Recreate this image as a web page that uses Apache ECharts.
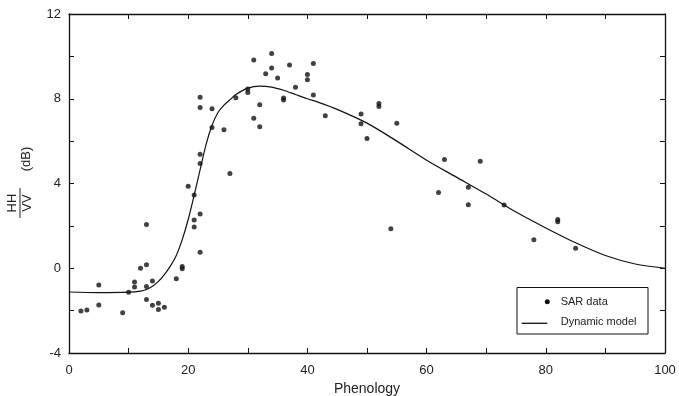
<!DOCTYPE html>
<html>
<head>
<meta charset="utf-8">
<script src="https://cdn.jsdelivr.net/npm/echarts@6/dist/echarts.min.js"></script>
<style>html,body{margin:0;padding:0;background:#fff;}#c{width:679px;height:396px;}</style>
</head>
<body>
<div id="c"></div>
<script>
// SAR observations
var sarPhenology = [2,3,5,5,9,10,11,11,12,13,13,13,13,14,14,15,15,16,18,19,19,20,21,21,21,22,22,22,22,22,22,24,24,26,27,28,30,30,31,31,32,32,33,34,34,35,36,36,37,38,40,40,41,41,43,49,49,50,52,52,55,54,62,63,67,67,69,73,78,82,82,85];
var sarRatio = [-2.02,-1.97,-0.79,-1.73,-2.1,-1.13,-0.88,-0.65,0.0,0.16,2.06,-0.86,-1.48,-0.6,-1.75,-1.65,-1.95,-1.84,-0.5,0.08,-0.02,3.87,3.46,2.28,1.95,2.56,0.76,4.94,5.38,8.07,7.59,7.53,6.64,6.54,4.47,8.05,8.46,8.3,9.83,7.08,7.72,6.68,9.18,10.13,9.45,8.98,8.03,7.94,9.59,8.54,9.15,8.9,9.66,8.18,7.2,7.28,6.82,6.12,7.77,7.63,6.84,1.87,3.58,5.13,3.82,3.0,5.05,2.99,1.35,2.2,2.3,0.94];
// Dynamic model curve
var modelPhenology = [0,5,10,12,13,14,15,16,17,18,19,20,21,22,23,24,25,26,27,28,30,32,34,36,38,40,42,45,50,55,60,65,70,75,80,85,90,95,100];
var modelRatio = [-1.12,-1.15,-1.13,-1.08,-1.0,-0.85,-0.62,-0.3,0.1,0.6,1.35,2.3,3.45,4.65,5.85,6.75,7.35,7.7,7.95,8.2,8.5,8.6,8.55,8.4,8.2,8.0,7.82,7.5,6.85,6.0,5.1,4.3,3.5,2.65,1.9,1.2,0.6,0.2,0.0];
var xTicks = [0,20,40,60,80,100];
var yTicks = [-4,0,4,8,12];

var chart = echarts.init(document.getElementById('c'), null, {renderer:'canvas'});
var font = 'Liberation Sans, Arial, sans-serif';
var axisCommon = {
  axisLine:{show:true,onZero:false,lineStyle:{color:'#111',width:1.3}},
  axisTick:{show:true,inside:true,length:5,lineStyle:{color:'#111',width:1}},
  splitLine:{show:false}
};
function mk(base, extra){ return Object.assign({}, JSON.parse(JSON.stringify(base)), extra); }

var option = {
  animation:false,
  backgroundColor:'#fff',
  grid:{left:69,right:14,top:14,bottom:43,containLabel:false,outerBoundsMode:'none'},
  xAxis:[
    mk(axisCommon,{type:'value',position:'bottom',min:0,max:100,interval:10,
      name:'Phenology',nameLocation:'middle',nameGap:24,
      nameTextStyle:{fontFamily:font,fontSize:14,color:'#222'},
      axisLabel:{show:true,margin:11,fontFamily:font,fontSize:13,color:'#222',
        formatter:function(v){return xTicks.indexOf(v)>=0?String(v):'';}}}),
    mk(axisCommon,{type:'value',position:'top',min:0,max:100,interval:10,axisLabel:{show:false}})
  ],
  yAxis:[
    mk(axisCommon,{type:'value',position:'left',min:-4,max:12,interval:2,
      axisLabel:{show:true,margin:8,fontFamily:font,fontSize:13,color:'#222',
        formatter:function(v){return yTicks.indexOf(v)>=0?String(v):'';}}}),
    mk(axisCommon,{type:'value',position:'right',min:-4,max:12,interval:2,axisLabel:{show:false}})
  ],
  series:[
    {name:'SAR data',type:'scatter',xAxisIndex:0,yAxisIndex:0,symbol:'circle',symbolSize:5,
      itemStyle:{color:'#111'},
      data:sarPhenology.map(function(x,i){return [x,sarRatio[i]];})},
    {name:'Dynamic model',type:'line',xAxisIndex:0,yAxisIndex:0,symbol:'none',smooth:0.3,
      lineStyle:{color:'#111',width:1.2},
      data:modelPhenology.map(function(x,i){return [x,modelRatio[i]];})}
  ],
  graphic:[
    // y-axis title: HH/VV (dB), rotated
    {type:'group',x:20,y:203,rotation:Math.PI/2,children:[
      {type:'line',shape:{x1:-15,y1:0,x2:15,y2:0},style:{stroke:'#222',lineWidth:1}},
      {type:'text',x:0,y:-1,style:{text:'HH',fontFamily:font,fontSize:13,fill:'#222',align:'center',verticalAlign:'bottom'}},
      {type:'text',x:0,y:1,style:{text:'VV',fontFamily:font,fontSize:13,fill:'#222',align:'center',verticalAlign:'top'}},
      {type:'text',x:44,y:6,style:{text:'(dB)',fontFamily:font,fontSize:13,fill:'#222',align:'center',verticalAlign:'middle'}}
    ]},
    // legend
    {type:'rect',shape:{x:517,y:287.5,width:131,height:46.5},style:{fill:'#fff',stroke:'#111',lineWidth:1}},
    {type:'circle',shape:{cx:547.3,cy:301.7,r:2.5},style:{fill:'#111'}},
    {type:'text',x:560.7,y:302,style:{text:'SAR data',fontFamily:font,fontSize:11,fill:'#222',verticalAlign:'middle'}},
    {type:'line',shape:{x1:521.7,y1:323.3,x2:547.3,y2:323.3},style:{stroke:'#111',lineWidth:1.3}},
    {type:'text',x:560.7,y:322,style:{text:'Dynamic model',fontFamily:font,fontSize:11,fill:'#222',verticalAlign:'middle'}}
  ]
};
chart.setOption(option);
</script>
</body>
</html>
